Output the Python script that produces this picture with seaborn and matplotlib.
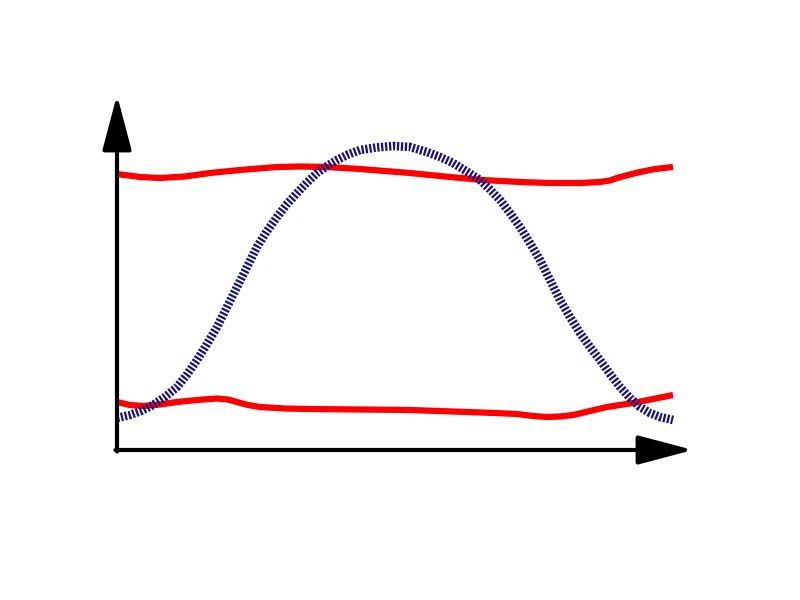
import matplotlib
matplotlib.use("Agg")
import matplotlib.pyplot as plt
import seaborn as sns

# Upper red curve
upper_x = [0, 23, 43, 68, 93, 123, 160, 183, 210, 243, 293, 333, 366, 403,
           433, 463, 483, 493, 500, 511, 523, 538, 556]
upper_y = [276, 273, 272, 273.5, 277, 280, 283, 283.5, 283, 281, 277, 273,
           270, 268, 267, 267, 268, 269.5, 272, 275, 278, 281, 283]

# Lower red curve
lower_x = [0, 13, 26, 43, 60, 80, 100, 111, 120, 131, 143, 168, 193, 243,
           293, 350, 378, 400, 416, 430, 443, 456, 473, 490, 503, 516, 536, 556]
lower_y = [48, 45, 44, 45.5, 48, 50, 51.5, 50.5, 48, 45, 43, 41.5, 41, 40.5,
           40, 38, 37, 36, 34, 33, 33.5, 35, 39, 43, 45, 47, 51, 55]

# Navy dotted bell-shaped curve
bell_x = [0, 13, 24, 36, 48, 60, 70, 80, 90, 100, 110, 120, 130, 140, 150,
          160, 170, 180, 190, 200, 210, 220, 231, 243, 259, 276, 293, 310,
          323, 336, 349, 363, 373, 383, 393, 403, 413, 423, 433, 443, 453,
          463, 473, 483, 493, 503, 513, 523, 533, 543, 556]
bell_y = [32, 35, 39, 45, 53, 63, 75.5, 90, 106, 123, 143, 163, 183, 203,
          219, 233, 246, 257, 267.5, 277, 284, 290, 295.5, 300, 302.5, 304,
          303, 298, 293, 287, 279, 270, 260.5, 250, 237, 223, 207, 190, 170,
          150, 133, 117, 103, 90, 76, 63, 52, 43, 37, 33, 30]

# Ends of the axis arrows
x_axis_end = 576
y_axis_end = 355

sns.set_style("white")

fig = plt.figure(figsize=(8, 6), dpi=100)
ax = fig.add_axes([0, 0, 1, 1])

# Red curves
for xs, ys in [(upper_x, upper_y), (lower_x, lower_y)]:
    sns.lineplot(x=xs, y=ys, color="#ff0000", linewidth=4.5,
                 solid_capstyle="butt", solid_joinstyle="round",
                 sort=False, ax=ax)

# Navy dotted curve
sns.lineplot(x=bell_x, y=bell_y, color="#1a1278", linewidth=6.2,
             linestyle=(0, (0.26, 0.2)), sort=False, ax=ax)

# Axis arrows
arrow = dict(arrowstyle="-|>,head_length=3.4,head_width=0.9",
             mutation_scale=10, lw=3, color="black",
             shrinkA=0, shrinkB=0)
ax.annotate("", xy=(x_axis_end, 0), xytext=(-1.5, 0), arrowprops=arrow)
ax.annotate("", xy=(0, y_axis_end), xytext=(0, -1.5), arrowprops=arrow)

ax.set_xlim(-117, 683)
ax.set_ylim(-150, 450)
ax.axis("off")

fig.savefig("out.png", dpi=100, facecolor="white")
